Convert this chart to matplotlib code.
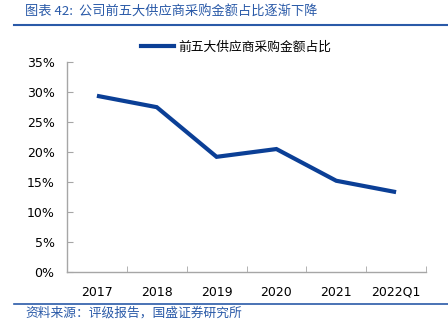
import matplotlib
matplotlib.use("Agg")
import matplotlib.pyplot as plt
from matplotlib.lines import Line2D
from matplotlib.ticker import FuncFormatter

plt.rcParams['font.family'] = ['Noto Sans CJK SC', 'DejaVu Sans']

categories = ['2017', '2018', '2019', '2020', '2021', '2022Q1']
share = [0.294, 0.275, 0.192, 0.205, 0.152, 0.133]
yticks = [0, 0.05, 0.10, 0.15, 0.20, 0.25, 0.30, 0.35]

title = '图表 42:  公司前五大供应商采购金额占比逐渐下降'
legend_label = '前五大供应商采购金额占比'
source = '资料来源：评级报告，国盛证券研究所'

line_color = '#0b3f96'
text_blue = '#2a5aa8'
spine_gray = '#a6a6a6'

W, H = 448, 329
fig = plt.figure(figsize=(W / 100, H / 100), dpi=100)
ax = fig.add_axes([67 / W, 1 - 271.7 / H, (426 - 67) / W, (271.7 - 62.3) / H])

x = list(range(len(categories)))
ax.plot(x, share, color=line_color, lw=3, solid_joinstyle='miter', solid_capstyle='butt')

ax.set_xlim(-0.5, len(categories) - 0.5)
ax.set_ylim(0, 0.35)
ax.set_yticks(yticks)
ax.yaxis.set_major_formatter(FuncFormatter(lambda v, p: f'{v*100:.0f}%'))
ax.set_xticks(x)
ax.set_xticklabels(categories, family='DejaVu Sans')
ax.set_xticks([i + 0.5 for i in x], minor=True)
ax.tick_params(axis='x', which='major', length=0, pad=10, labelsize=9)
ax.tick_params(axis='x', which='minor', direction='in', length=4, color=spine_gray)
ax.tick_params(axis='y', direction='in', length=4, color=spine_gray, labelsize=9, pad=9)
for lab in ax.get_yticklabels():
    lab.set_family('DejaVu Sans')

for s in ['top', 'right']:
    ax.spines[s].set_visible(False)
for s in ['left', 'bottom']:
    ax.spines[s].set_color(spine_gray)
    ax.spines[s].set_linewidth(1)

# legend
handle = Line2D([0], [0], color=line_color, lw=3)
fig.legend([handle], [legend_label], loc='center', bbox_to_anchor=(236 / W, 1 - 47 / H),
           frameon=False, fontsize=9.2, handlelength=2.6, handletextpad=0.3)

# title, rules, source
fig.text(25 / W, 1 - 12 / H, title, color=text_blue, fontsize=9.5, va='center', ha='left')
fig.add_artist(Line2D([14 / W, 1], [1 - 24.5 / H] * 2, color='#2a5aa8', lw=1.5))
fig.add_artist(Line2D([14 / W, 1], [1 - 303.5 / H] * 2, color='#2a5aa8', lw=1.2))
fig.text(25 / W, 1 - 313 / H, source, color=text_blue, fontsize=9.2, va='center', ha='left')

fig.savefig('out.png', dpi=100)
